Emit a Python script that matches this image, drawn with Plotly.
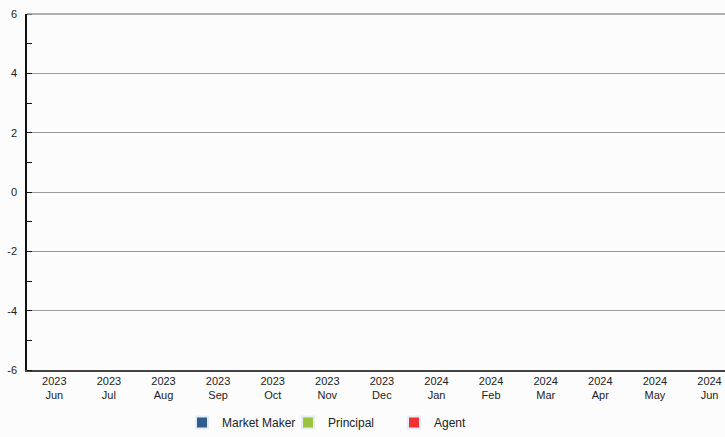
import plotly.graph_objects as go

months = ["2023<br>Jun", "2023<br>Jul", "2023<br>Aug", "2023<br>Sep", "2023<br>Oct",
          "2023<br>Nov", "2023<br>Dec", "2024<br>Jan", "2024<br>Feb", "2024<br>Mar",
          "2024<br>Apr", "2024<br>May", "2024<br>Jun"]
market_maker = [None] * 13
principal = [None] * 13
agent = [None] * 13
y_tick_vals = [-6, -4, -2, 0, 2, 4, 6]
y_tick_text = ["-6", "-4", "-2", "0", "2", "4", "6"]

series = [("Market Maker", market_maker, "#2f5b8f"),
          ("Principal", principal, "#9ac43c"),
          ("Agent", agent, "#f23030")]

fig = go.Figure()
for name, vals, col in series:
    fig.add_trace(go.Bar(x=months, y=vals, name=name, marker_color=col))

W, H = 725, 437
ml, mr, mt, mb = 27, 0, 14, 67
pw = W - ml - mr
ph = H - mt - mb

fig.update_layout(
    width=W, height=H,
    margin=dict(l=ml, r=mr, t=mt, b=mb, pad=0, autoexpand=False),
    barmode="relative",
    paper_bgcolor="#fcfcfc", plot_bgcolor="#fcfcfc",
    font=dict(family="Liberation Sans, Arial, sans-serif", size=11, color="#222222"),
    showlegend=True,
    legend=dict(orientation="h", x=(182 - ml) / pw, xanchor="left",
                yref="container", y=-5 / H, yanchor="bottom",
                font=dict(size=12, color="#222222"),
                entrywidth=61, itemsizing="constant", traceorder="normal",
                bgcolor="rgba(0,0,0,0)"),
    shapes=[dict(type="line", xref="paper", yref="paper", x0=0, x1=1, y0=1, y1=1,
                 line=dict(color="#999999", width=1.5), layer="above")],
)
fig.update_xaxes(
    type="category", categoryorder="array", categoryarray=months,
    range=[-0.5, -0.5 + pw / 54.6],
    showgrid=False, showline=True, linecolor="#444444", linewidth=1.5,
    ticks="", tickfont=dict(size=11, color="#222222"), zeroline=False, automargin=False,
)
fig.update_yaxes(
    range=[-6, 6], tickmode="array", tickvals=y_tick_vals, ticktext=y_tick_text,
    showgrid=True, gridcolor="#999999", gridwidth=1,
    zeroline=False, showline=True, linecolor="#111111", linewidth=1.5,
    ticks="", tickfont=dict(size=11, color="#222222"), ticklabelstandoff=6,
    automargin=False,
    minor=dict(dtick=1, tick0=0, ticks="inside", ticklen=5, tickcolor="#111111",
               tickwidth=1.2, showgrid=False),
)
fig.write_html("out.html", config={"displayModeBar": False},
               post_script="document.body.style.margin='0';document.body.style.background='#fcfcfc';")
